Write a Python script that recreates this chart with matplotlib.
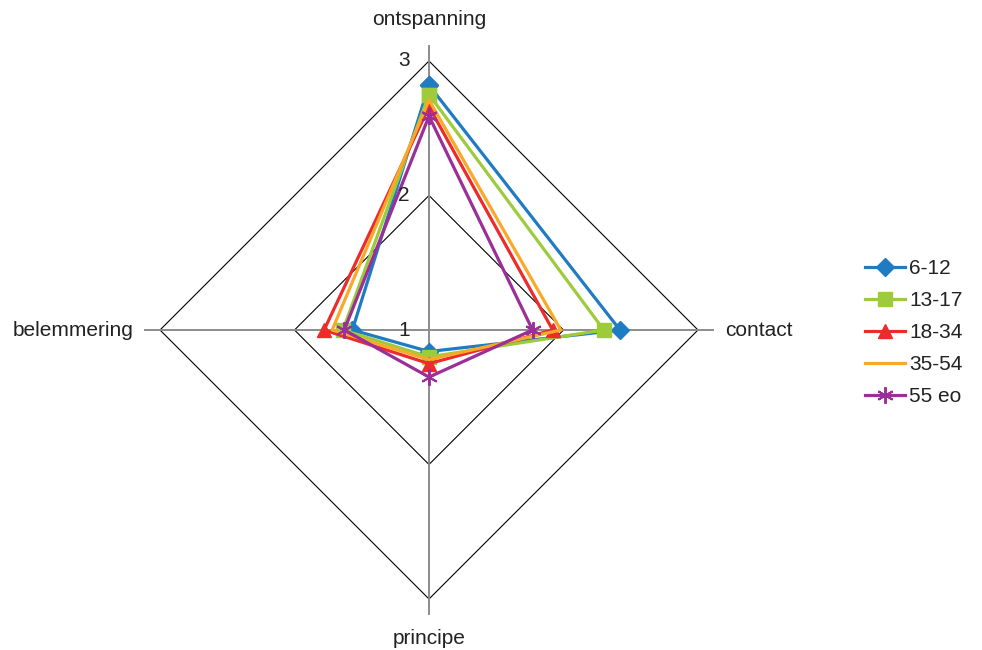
import numpy as np
import matplotlib
matplotlib.use("Agg")
import matplotlib.pyplot as plt
from matplotlib.transforms import ScaledTranslation

plt.rcParams['font.family'] = ['Liberation Sans', 'DejaVu Sans']

categories = ["ontspanning", "contact", "principe", "belemmering"]
series_names = ["6-12", "13-17", "18-34", "35-54", "55 eo"]
v_6_12 = [2.82, 2.42, 1.16, 1.57]
v_13_17 = [2.75, 2.30, 1.20, 1.64]
v_18_34 = [2.66, 1.92, 1.25, 1.78]
v_35_54 = [2.71, 1.98, 1.22, 1.72]
v_55_eo = [2.59, 1.77, 1.35, 1.63]
series_values = [v_6_12, v_13_17, v_18_34, v_35_54, v_55_eo]
rings = [1, 2, 3]
tick_labels = ["1", "2", "3"]

colors = ["#1F7BC2", "#9DCB3C", "#EE2B2B", "#F8A928", "#9B2F97"]
markers = ["D", "s", "^", None, (6, 2, 0)]
msizes = [9, 10, 10, 0, 12]

fig = plt.figure(figsize=(9.82, 6.5), dpi=100)
W, H = 982, 650
cx, cy, R = 429, 320, 269
ax = fig.add_axes([(cx - R) / W, (cy - R) / H, 2 * R / W, 2 * R / H], projection='polar')
ax.set_theta_offset(np.pi / 2)
ax.set_theta_direction(-1)
ax.set_ylim(1, 3)
ax.grid(False)
ax.spines['polar'].set_visible(False)
ax.set_xticks([])
ax.set_yticks([])
ax.patch.set_visible(False)

n = len(categories)
angles = [i * 2 * np.pi / n for i in range(n)]
closed = angles + [angles[0]]

# rings (polygon grid)
for r in rings[1:]:
    ax.plot(closed, [r] * (n + 1), color='black', lw=0.8, zorder=1, clip_on=False)
# spokes
for a in angles:
    ax.plot([a, a], [1, 3.11], color='#8C8C8C', lw=1.4, zorder=1.5, clip_on=False)

# series
for name, vals, c, m, ms in zip(series_names, series_values, colors, markers, msizes):
    kw = dict(color=c, lw=2.3, label=name, zorder=3, clip_on=False)
    if m is not None:
        kw.update(marker=m, markersize=ms, markerfacecolor=c, markeredgecolor=c)
        if m == (6, 2, 0):
            kw.update(markeredgewidth=1.4)
    ax.plot(closed, vals + [vals[0]], **kw)

# category labels
fs = 15
ax.text(angles[0], 3.31, categories[0], ha='center', va='center', fontsize=fs, color='#222222', clip_on=False)
ax.text(angles[1], 3.20, categories[1], ha='left', va='center', fontsize=fs, color='#222222', clip_on=False)
ax.text(angles[2], 3.29, categories[2], ha='center', va='center', fontsize=fs, color='#222222', clip_on=False)
ax.text(angles[3], 3.20, categories[3], ha='right', va='center', fontsize=fs, color='#222222', clip_on=False)

# radial tick labels
off = ax.transData + ScaledTranslation(-25 / 100, 0, fig.dpi_scale_trans)
for r, t in zip(rings, tick_labels):
    ax.text(0, r, t, transform=off, ha='center', va='center', fontsize=fs, color='#222222', clip_on=False)

handles, labels = ax.get_legend_handles_labels()
leg = fig.legend(handles, labels, loc='center left', bbox_to_anchor=(0.872, 0.488),
                 frameon=False, fontsize=fs, handlelength=1.95, handletextpad=0.2,
                 labelspacing=0.62, borderaxespad=0)
for t in leg.get_texts():
    t.set_color('#222222')

fig.savefig("out.png", dpi=100)
